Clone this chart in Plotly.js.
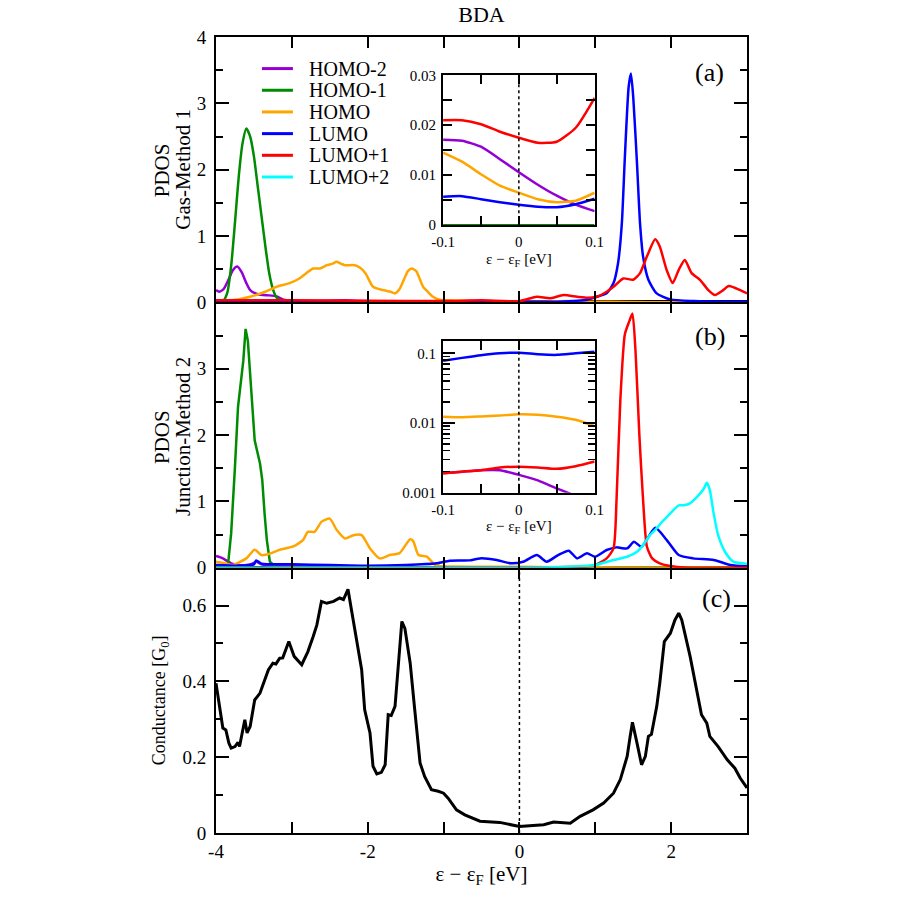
<!DOCTYPE html>
<html><head><meta charset="utf-8">
<script src="https://cdn.plot.ly/plotly-3.0.1.min.js"></script>
<style>html,body{margin:0;padding:0;background:#fff}</style>
</head><body><div id="chart" style="width:900px;height:900px"></div>
<script>
// ---------------- DATA ----------------
const SERIES_NAMES = ['HOMO-2','HOMO-1','HOMO','LUMO','LUMO+1','LUMO+2'];
const SERIES_COLORS = ['#9400d3','#008b00','#ffa500','#0000ff','#ff0000','#00ffff'];

const X_TICKVALS = [-4,-2,0,2];
const X_TICKTEXT = ['-4','-2','0','2'];
const X_MINORVALS = [-3,-1,1,3];
const YA_TICKVALS = [0,1,2,3,4];
const YB_TICKVALS = [0,1,2,3];
const YC_TICKVALS = [0,0.2,0.4,0.6];
const YC_TICKTEXT = ['0','0.2','0.4','0.6'];
const IN_X_TICKVALS = [-0.1,0,0.1];
const IN_X_TICKTEXT = ['-0.1','0','0.1'];
const INA_Y_TICKVALS = [0,0.01,0.02,0.03];
const INA_Y_TICKTEXT = ['0','0.01','0.02','0.03'];
const INB_Y_TICKVALS = [0.001,0.01,0.1];
const INB_Y_TICKTEXT = ['0.001','0.01','0.1'];

// Panel (a) Gas-Method 1
const A_H2_E = [-4,-3.96,-3.9,-3.84,-3.78,-3.72,-3.66,-3.6,-3.55,-3.47,-3.38,-3.3,-3.2,-3.11,-3.0,-2.7,-2.5,-2.3,-2.1,-1.8,-1.4,-1.0,-0.5,-0.1,0,0.1,0.5,1.0,2.0,3.0];
const A_H2_P = [0.185,0.16,0.2,0.33,0.48,0.54,0.45,0.29,0.185,0.13,0.11,0.105,0.09,0.04,0.025,0.02,0.025,0.03,0.02,0.015,0.012,0.014,0.017,0.017,0.011,0.003,0.002,0,0,0];
const A_H1_E = [-4,-3.9,-3.85,-3.8,-3.75,-3.7,-3.65,-3.6,-3.55,-3.5,-3.45,-3.4,-3.35,-3.3,-3.25,-3.2,-3.1,-3.0,3.0];
const A_H1_P = [0,0.03,0.15,0.55,1.2,1.9,2.4,2.62,2.5,2.2,1.75,1.3,0.85,0.45,0.2,0.07,0.01,0,0];
const A_H_E = [-4,-3.8,-3.55,-3.35,-3.2,-3.03,-2.9,-2.81,-2.72,-2.63,-2.54,-2.47,-2.41,-2.35,-2.3,-2.17,-2.1,-2.03,-1.93,-1.8,-1.7,-1.64,-1.58,-1.52,-1.47,-1.42,-1.36,-1.31,-1.27,-1.2,-1.14,-1.05,-0.9,-0.6,-0.3,0,0.3,0.6,1.0,1.4,2.0,3.0];
const A_H_P = [0.02,0.03,0.085,0.16,0.235,0.29,0.36,0.44,0.51,0.51,0.56,0.58,0.61,0.58,0.56,0.56,0.52,0.44,0.235,0.185,0.16,0.135,0.2,0.35,0.47,0.51,0.47,0.34,0.235,0.15,0.085,0.04,0.03,0.02,0.015,0.01,0.01,0.02,0.01,0.005,0,0];
const A_L_E = [-4,-2,-1,0,0.5,0.9,1.02,1.15,1.24,1.30,1.35,1.39,1.44,1.47,1.50,1.55,1.59,1.63,1.70,1.81,1.99,2.3,2.7,3.0];
const A_L_P = [0,0,0.005,0.004,0.01,0.04,0.085,0.135,0.29,0.59,1.19,2.19,3.25,3.45,3.10,2.09,1.19,0.69,0.34,0.135,0.045,0.02,0.01,0.01];
const A_L1_E = [-4,-3,-2,-1,-0.5,0,0.23,0.4,0.58,0.76,0.9,1.02,1.15,1.24,1.37,1.5,1.59,1.68,1.79,1.85,1.94,2.02,2.10,2.18,2.27,2.38,2.49,2.58,2.67,2.76,2.91,3.0];
const A_L1_P = [0.03,0.03,0.025,0.02,0.03,0.018,0.085,0.06,0.11,0.085,0.07,0.085,0.16,0.235,0.36,0.34,0.44,0.69,0.95,0.84,0.49,0.29,0.49,0.64,0.44,0.34,0.185,0.11,0.17,0.245,0.185,0.135];

// Panel (b) Junction-Method 2
const B_H2_E = [-4,-3.91,-3.8,-3.7,-3.6,-3.52,-3.47,-3.4,-3.3,-3.0,-2.0,-1.0,0,0.5,1.0,3.0];
const B_H2_P = [0.176,0.14,0.066,0.04,0.04,0.06,0.09,0.05,0.03,0.02,0.01,0.005,0.0018,0,0,0];
const B_H1_E = [-4,-3.86,-3.84,-3.80,-3.75,-3.71,-3.64,-3.61,-3.58,-3.53,-3.49,-3.42,-3.39,-3.36,-3.33,-3.29,-3.2,3.0];
const B_H1_P = [0,0,0.066,0.52,1.52,2.42,3.12,3.60,3.42,2.52,1.92,1.57,1.32,0.82,0.42,0.09,0,0];
const B_H_E = [-4,-3.9,-3.78,-3.6,-3.49,-3.4,-3.29,-3.16,-2.98,-2.85,-2.79,-2.70,-2.61,-2.50,-2.41,-2.30,-2.19,-2.08,-1.97,-1.84,-1.71,-1.58,-1.44,-1.40,-1.33,-1.22,-1.11,-1.0,-0.5,0,0.5,1.0,1.5,3.0];
const B_H_P = [0.09,0.07,0.04,0.14,0.27,0.19,0.21,0.27,0.32,0.42,0.54,0.54,0.69,0.74,0.57,0.44,0.49,0.49,0.29,0.14,0.19,0.22,0.43,0.40,0.19,0.165,0.04,0.02,0.015,0.013,0.008,0.005,0.002,0];
const B_L_E = [-4,-3.7,-3.5,-3.47,-3.4,-3.0,-2.5,-2.0,-1.5,-1.09,-0.92,-0.66,-0.52,-0.30,-0.12,0.05,0.23,0.36,0.51,0.65,0.76,0.89,1.0,1.15,1.28,1.42,1.51,1.61,1.79,1.94,2.10,2.29,2.56,2.78,3.0];
const B_L_P = [0.04,0.03,0.05,0.11,0.06,0.05,0.04,0.03,0.04,0.066,0.105,0.11,0.14,0.116,0.066,0.09,0.19,0.09,0.19,0.256,0.14,0.216,0.165,0.266,0.306,0.29,0.39,0.316,0.60,0.42,0.19,0.14,0.116,0.04,0.02];
const B_L1_E = [-4,-1,0,0.5,0.9,1.0,1.15,1.24,1.28,1.33,1.39,1.45,1.49,1.53,1.58,1.63,1.68,1.75,1.85,1.97,2.2,3.0];
const B_L1_P = [0,0.001,0.0024,0.005,0.02,0.04,0.14,0.29,1.02,2.52,3.52,3.72,3.83,3.27,2.02,1.02,0.32,0.14,0.066,0.03,0,0];
const B_L2_E = [-4,0,0.5,1.0,1.24,1.42,1.55,1.63,1.72,1.79,1.88,1.99,2.10,2.17,2.25,2.36,2.43,2.47,2.51,2.56,2.62,2.71,2.82,3.0];
const B_L2_P = [0,0,0.01,0.04,0.116,0.165,0.24,0.34,0.49,0.57,0.69,0.82,0.94,0.94,0.97,1.09,1.19,1.28,1.17,0.82,0.49,0.24,0.09,0.06];

// Insets (near Fermi level)
const IN_E = [-0.1,-0.075,-0.05,-0.025,0,0.025,0.05,0.075,0.1];
const INA_H2 = [0.0171,0.0169,0.0157,0.0132,0.0106,0.0081,0.0059,0.0041,0.0028];
const INA_H1 = [0,0,0,0,0,0,0,0,0];
const INA_H  = [0.0145,0.0127,0.0102,0.0079,0.0065,0.0052,0.0046,0.0049,0.0065];
const INA_L  = [0.0057,0.0058,0.0052,0.0046,0.0041,0.0037,0.0036,0.0042,0.0053];
const INA_L1 = [0.021,0.021,0.0202,0.0187,0.0175,0.0165,0.0167,0.0195,0.0255];
const INB_H2 = [0.0019,0.0020,0.0021,0.0021,0.0018,0.0015,0.00115,0.0009,0.0007];
const INB_H  = [0.0123,0.0121,0.0124,0.0128,0.0133,0.0131,0.0123,0.0111,0.0090];
const INB_L  = [0.078,0.086,0.094,0.100,0.102,0.097,0.095,0.100,0.105];
const INB_L1 = [0.0019,0.0020,0.0021,0.0023,0.00236,0.0023,0.0022,0.0024,0.0028];

// Panel (c) conductance
const C_E = [-4.0,-3.95,-3.91,-3.87,-3.83,-3.80,-3.75,-3.71,-3.69,-3.62,
 -3.59,-3.55,-3.49,-3.42,-3.31,-3.25,-3.21,-3.16,-3.12,-3.04,
 -2.97,-2.87,-2.83,-2.79,-2.72,-2.67,-2.61,-2.54,-2.45,-2.37,
 -2.32,-2.26,-2.21,-2.15,-2.08,-2.04,-1.97,-1.93,-1.88,-1.82,
 -1.77,-1.73,-1.69,-1.64,-1.60,-1.55,-1.51,-1.44,-1.38,-1.31,
 -1.25,-1.16,-1.07,-1.00,-0.94,-0.83,-0.72,-0.65,-0.52,-0.26,
 -0.12,0.0,0.18,0.32,0.45,0.67,0.80,0.97,1.11,1.24,
 1.33,1.42,1.46,1.49,1.55,1.61,1.66,1.70,1.74,1.81,
 1.85,1.91,1.99,2.05,2.10,2.14,2.25,2.35,2.40,2.47,
 2.51,2.62,2.74,2.84,2.91,3.0];
const C_G = [0.395,0.325,0.277,0.272,0.237,0.224,0.228,0.239,0.228,0.299,
 0.264,0.281,0.351,0.369,0.430,0.448,0.446,0.461,0.462,0.505,
 0.466,0.444,0.461,0.478,0.518,0.549,0.611,0.606,0.611,0.620,
 0.616,0.643,0.584,0.518,0.431,0.325,0.264,0.176,0.156,0.160,
 0.180,0.312,0.310,0.334,0.431,0.558,0.540,0.448,0.325,0.185,
 0.149,0.114,0.110,0.105,0.092,0.061,0.048,0.042,0.031,0.028,
 0.022,0.017,0.020,0.022,0.029,0.026,0.044,0.061,0.079,0.105,
 0.141,0.202,0.255,0.292,0.237,0.180,0.202,0.255,0.260,0.334,
 0.395,0.505,0.527,0.562,0.580,0.562,0.466,0.360,0.312,0.290,
 0.255,0.228,0.193,0.171,0.145,0.119];

// ---------------- LAYOUT HELPERS ----------------
const W = 900, H = 900;
const PL = 216, PR = 747.5, PT = 36.7, PB = 833.3;
const fx = px => (px - PL) / (PR - PL);
const fy = py => (PB - py) / (PB - PT);
const FONT = 'Liberation Serif';
const LW = 2.5;

function tr(x, y, xa, ya, ci, w, shape) {
  return {x: x, y: y, xaxis: xa, yaxis: ya, type: 'scatter', mode: 'lines',
    name: SERIES_NAMES[ci], showlegend: false, hoverinfo: 'skip',
    line: {color: SERIES_COLORS[ci], width: w || LW, shape: shape || 'spline', smoothing: 0.6}};
}

const data = [
  tr(A_H2_E, A_H2_P, 'x3', 'y3', 0),
  tr(A_H1_E, A_H1_P, 'x3', 'y3', 1),
  tr(A_H_E, A_H_P, 'x3', 'y3', 2),
  tr(A_L_E, A_L_P, 'x3', 'y3', 3),
  tr(A_L1_E, A_L1_P, 'x3', 'y3', 4),
  tr(B_H2_E, B_H2_P, 'x2', 'y2', 0),
  tr(B_H1_E, B_H1_P, 'x2', 'y2', 1, LW, 'linear'),
  tr(B_H_E, B_H_P, 'x2', 'y2', 2),
  tr(B_L_E, B_L_P, 'x2', 'y2', 3),
  tr(B_L1_E, B_L1_P, 'x2', 'y2', 4),
  tr(B_L2_E, B_L2_P, 'x2', 'y2', 5),
  {x: C_E, y: C_G, xaxis: 'x', yaxis: 'y', type: 'scatter', mode: 'lines', name: 'Conductance',
   showlegend: false, hoverinfo: 'skip', line: {color: '#000', width: 3, shape: 'linear'}},
  tr(IN_E, INA_H1, 'x4', 'y4', 1),
  tr(IN_E, INA_H2, 'x4', 'y4', 0),
  tr(IN_E, INA_H, 'x4', 'y4', 2),
  tr(IN_E, INA_L, 'x4', 'y4', 3),
  tr(IN_E, INA_L1, 'x4', 'y4', 4),
  tr(IN_E, INB_H2, 'x5', 'y5', 0),
  tr(IN_E, INB_H, 'x5', 'y5', 2),
  tr(IN_E, INB_L, 'x5', 'y5', 3),
  tr(IN_E, INB_L1, 'x5', 'y5', 4)
];

const frame = {showline: true, linewidth: 2, linecolor: '#000', mirror: 'allticks',
  ticks: 'inside', tickcolor: '#000', tickwidth: 2, showgrid: false, zeroline: false,
  tickfont: {family: FONT, size: 19, color: '#000'}};
const minorOf = (vals, len, w) => ({tickmode: 'array', tickvals: vals, ticklen: len, tickwidth: w || 2,
  tickcolor: '#000', ticks: 'inside', showgrid: false});

function mainX(anchor, labels) {
  return Object.assign({}, frame, {domain: [0, 1], anchor: anchor, range: [-4, 3],
    tickmode: 'array', tickvals: X_TICKVALS, ticktext: X_TICKTEXT, ticklen: 11,
    minor: minorOf(X_MINORVALS, 11), showticklabels: labels, ticklabelstandoff: 0});
}

const xa = mainX('y', true);
xa.title = {text: 'ε − ε<sub>F</sub> [eV]', font: {family: FONT, size: 21, color: '#000'}, standoff: 0};
const xb = mainX('y2', false);
const xc = mainX('y3', false);
xb.matches = 'x'; xc.matches = 'x';

const yc = Object.assign({}, frame, {domain: [0, 1/3], anchor: 'x', range: [0, 0.7],
  tickmode: 'array', tickvals: YC_TICKVALS, ticktext: YC_TICKTEXT, ticklen: 13, ticklabelstandoff: 4,
  minor: minorOf([0.1, 0.3, 0.5], 7),
  title: {text: 'Conductance [G<sub>0</sub>]', font: {family: FONT, size: 18, color: '#000'}, standoff: 12}});
const yb = Object.assign({}, frame, {domain: [1/3, 2/3], anchor: 'x2', range: [0, 4],
  tickmode: 'array', tickvals: YB_TICKVALS, ticklen: 13, ticklabelstandoff: 4,
  minor: minorOf([0.5, 1.5, 2.5, 3.5], 7)});
const ya = Object.assign({}, frame, {domain: [2/3, 1], anchor: 'x3', range: [0, 4],
  tickmode: 'array', tickvals: YA_TICKVALS, ticklen: 13, ticklabelstandoff: 4,
  minor: minorOf([0.5, 1.5, 2.5, 3.5], 7)});

const inFont = {family: FONT, size: 15, color: '#000'};
const inFrame = Object.assign({}, frame, {tickfont: inFont, ticklabelstandoff: 2});
const INX0 = fx(443.3), INX1 = fx(595);
function insetX(anchor) {
  return Object.assign({}, inFrame, {domain: [INX0, INX1], anchor: anchor, range: [-0.1, 0.1],
    tickmode: 'array', tickvals: IN_X_TICKVALS, ticktext: IN_X_TICKTEXT, ticklen: 9,
    minor: minorOf([-0.05, 0.05], 9),
    title: {text: 'ε − ε<sub>F</sub> [eV]', font: inFont, standoff: 4}});
}
const x4 = insetX('y4');
const x5 = insetX('y5');
const y4 = Object.assign({}, inFrame, {domain: [fy(225), fy(75)], anchor: 'x4', range: [0, 0.03],
  tickmode: 'array', tickvals: INA_Y_TICKVALS, ticktext: INA_Y_TICKTEXT, ticklen: 9,
  minor: minorOf([0.005, 0.015, 0.025], 9)});
const logMinor = [];
[0.001, 0.01, 0.1].forEach(d => { for (let k = 2; k <= 9; k++) { const v = +(k * d).toPrecision(3); if (v < 0.15) logMinor.push(v); } });
const y5 = Object.assign({}, inFrame, {domain: [fy(492.7), fy(340.7)], anchor: 'x5', type: 'log', range: [-3, -0.82],
  tickmode: 'array', tickvals: INB_Y_TICKVALS, ticktext: INB_Y_TICKTEXT, ticklen: 12,
  minor: minorOf(logMinor, 7, 1.5)});

const shapes = [];
const annotations = [];
// legend drawn inside panel (a)
const LEG_Y0 = 68.3, LEG_DY = 21.7;
SERIES_NAMES.forEach((n, i) => {
  const yy = fy(LEG_Y0 + i * LEG_DY);
  shapes.push({type: 'line', xref: 'paper', yref: 'paper', x0: fx(262), x1: fx(293), y0: yy, y1: yy,
    line: {color: SERIES_COLORS[i], width: 3}});
  annotations.push({xref: 'paper', yref: 'paper', x: fx(307), y: yy, xanchor: 'left', yanchor: 'middle',
    text: n, showarrow: false, font: {family: FONT, size: 20, color: '#000'}});
});
// y-axis titles for PDOS panels (two lines each)
[['PDOS', 162, 170], ['Gas-Method 1', 183, 169.5], ['PDOS', 162, 437], ['Junction-Method 2', 183.5, 436.5]].forEach(([t, px, py]) => {
  annotations.push({xref: 'paper', yref: 'paper', x: fx(px), y: fy(py), xanchor: 'center', yanchor: 'middle',
    textangle: -90, text: t, showarrow: false, font: {family: FONT, size: 21, color: '#000'}});
});
// Fermi-level dotted lines
[['x', 'y domain'], ['x4', 'y4 domain'], ['x5', 'y5 domain']].forEach(([xr, yr]) => {
  shapes.push({type: 'line', xref: xr, yref: yr, x0: 0, x1: 0, y0: 0, y1: 1,
    line: {color: '#000', width: 1.5, dash: 'dot'}});
});
// panel labels
[['(a)', 709.5, 72.5], ['(b)', 710, 336], ['(c)', 717, 599]].forEach(([t, px, py]) => {
  annotations.push({xref: 'paper', yref: 'paper', x: fx(px), y: fy(py), xanchor: 'center', yanchor: 'middle',
    text: t, showarrow: false, font: {family: FONT, size: 26, color: '#000'}});
});

const layout = {
  width: W, height: H,
  margin: {l: PL, r: W - PR, t: PT, b: H - PB, pad: 0},
  paper_bgcolor: '#ffffff', plot_bgcolor: 'rgba(0,0,0,0)',
  showlegend: false,
  font: {family: FONT, color: '#000'},
  title: {text: 'BDA', font: {family: FONT, size: 22, color: '#000'}, xref: 'paper', x: 0.5, xanchor: 'center',
    yref: 'container', y: 1 - 14 / H, yanchor: 'middle'},
  xaxis: xa, yaxis: yc,
  xaxis2: xb, yaxis2: yb,
  xaxis3: xc, yaxis3: ya,
  xaxis4: x4, yaxis4: y4,
  xaxis5: x5, yaxis5: y5,
  shapes: shapes, annotations: annotations
};

Plotly.newPlot('chart', data, layout, {staticPlot: true, displayModeBar: false});
</script></body></html>
